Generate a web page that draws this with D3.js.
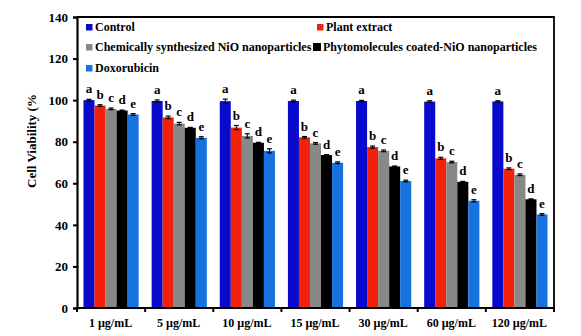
<html>
<head>
<meta charset="utf-8">
<script src="https://d3js.org/d3.v7.min.js"></script>
<style>
  body { margin: 0; background: #fff; }
  text { font-family: "Liberation Serif", "Times New Roman", serif; font-weight: bold; }
</style>
</head>
<body>
<svg id="chart" width="581" height="336"></svg>
<script>

// concentrations on the x axis
var doses = ["1 µg/mL", "5 µg/mL", "10 µg/mL", "15 µg/mL", "30 µg/mL", "60 µg/mL", "120 µg/mL"];

// treatments
var series = ["Control", "Plant extract", "Chemically synthesized NiO nanoparticles",
              "Phytomolecules coated-NiO nanoparticles", "Doxorubicin"];
var colors = ["#0a0acd", "#f2210b", "#888888", "#000000", "#1672de"];
var letters = ["a", "b", "c", "d", "e"];

// cell viability (%) per treatment, one value per dose
var control   = [100.0, 99.6, 99.5, 99.6, 99.6, 99.3, 99.4];
var plant     = [97.4, 91.7, 86.8, 82.1, 77.4, 72.0, 67.0];
var chemNiO   = [95.8, 88.7, 82.8, 79.2, 75.6, 70.2, 64.1];
var phytoNiO  = [95.0, 86.7, 79.5, 73.6, 68.1, 60.7, 52.3];
var doxo      = [93.1, 81.9, 75.6, 69.9, 61.1, 51.6, 45.0];

// standard errors
var controlErr  = [0.4, 0.5, 1.0, 0.4, 0.3, 0.4, 0.3];
var plantErr    = [0.4, 0.6, 1.0, 0.4, 0.5, 0.5, 0.4];
var chemNiOErr  = [0.4, 0.6, 1.0, 0.4, 0.4, 0.4, 0.4];
var phytoNiOErr = [0.2, 0.2, 0.2, 0.2, 0.2, 0.2, 0.2];
var doxoErr     = [0.4, 0.5, 1.0, 0.4, 0.4, 0.5, 0.4];

var yTicks = [0, 20, 40, 60, 80, 100, 120, 140];

var values = [control, plant, chemNiO, phytoNiO, doxo];
var errors = [controlErr, plantErr, chemNiOErr, phytoNiOErr, doxoErr];

var data = [];
doses.forEach(function(dose, i) {
  series.forEach(function(s, j) {
    data.push({dose: dose, series: s, value: values[j][i], err: errors[j][i], letter: letters[j], color: colors[j]});
  });
});

var svg = d3.select("#chart");

// plot area
var mLeft = 77, mRight = 554, mTop = 17, mBottom = 308;

var x0 = d3.scaleBand()
  .domain(doses)
  .range([mLeft, mRight])
  .paddingInner(0.19)
  .paddingOuter(0.095);

var x1 = d3.scaleBand()
  .domain(series)
  .range([0, x0.bandwidth()]);

var y = d3.scaleLinear()
  .domain([0, 140])
  .range([mBottom, mTop]);

// bars
svg.append("g").selectAll("rect")
  .data(data)
  .enter().append("rect")
    .attr("x", function(d) { return x0(d.dose) + x1(d.series); })
    .attr("y", function(d) { return y(d.value); })
    .attr("width", x1.bandwidth())
    .attr("height", function(d) { return y(0) - y(d.value); })
    .style("fill", function(d) { return d.color; });

// error bars
var eb = svg.append("g").selectAll("g")
  .data(data)
  .enter().append("g")
    .attr("transform", function(d) { return "translate(" + (x0(d.dose) + x1(d.series) + x1.bandwidth() / 2) + ",0)"; });
eb.append("line")
  .attr("x1", 0).attr("x2", 0)
  .attr("y1", function(d) { return y(d.value - d.err); })
  .attr("y2", function(d) { return y(d.value + d.err); })
  .attr("stroke", "#000").attr("stroke-width", 1);
eb.append("line")
  .attr("x1", -2.5).attr("x2", 2.5)
  .attr("y1", function(d) { return y(d.value + d.err); })
  .attr("y2", function(d) { return y(d.value + d.err); })
  .attr("stroke", "#000").attr("stroke-width", 1.2);
eb.append("line")
  .attr("x1", -2.5).attr("x2", 2.5)
  .attr("y1", function(d) { return y(d.value - d.err); })
  .attr("y2", function(d) { return y(d.value - d.err); })
  .attr("stroke", "#000").attr("stroke-width", 1.2);

// significance letters
svg.append("g").selectAll("text")
  .data(data)
  .enter().append("text")
    .attr("x", function(d) { return x0(d.dose) + x1(d.series) + x1.bandwidth() / 2; })
    .attr("y", function(d) { return y(d.value + d.err) - 6; })
    .attr("text-anchor", "middle")
    .style("font-size", "13px")
    .text(function(d) { return d.letter; });

// y axis
var yAxis = svg.append("g")
  .attr("transform", "translate(" + mLeft + ",0)")
  .call(d3.axisLeft(y).tickValues(yTicks).tickSize(4).tickPadding(5));
yAxis.select(".domain").attr("stroke-width", 2.2);
yAxis.selectAll(".tick line").attr("stroke-width", 2);
yAxis.selectAll("text").style("font-size", "13px").style("font-family", "Liberation Serif, serif").style("font-weight", "bold");

// x axis: ticks at the group boundaries
var step = x0.step();
var bounds = d3.range(doses.length + 1).map(function(i) { return mLeft + i * step; });
svg.append("line")
  .attr("x1", mLeft - 1).attr("x2", mRight + 1)
  .attr("y1", mBottom).attr("y2", mBottom)
  .attr("stroke", "#000").attr("stroke-width", 2.2);
svg.append("g").selectAll("line")
  .data(bounds)
  .enter().append("line")
    .attr("x1", function(d) { return d; }).attr("x2", function(d) { return d; })
    .attr("y1", mBottom).attr("y2", mBottom + 4)
    .attr("stroke", "#000").attr("stroke-width", 2);
svg.append("g").selectAll("text")
  .data(doses)
  .enter().append("text")
    .attr("x", function(d) { return x0(d) + x0.bandwidth() / 2 - 0.5; })
    .attr("y", 327)
    .attr("text-anchor", "middle")
    .style("font-size", "12px")
    .text(function(d) { return d; });

// frame: top and right sides
svg.append("path")
  .attr("d", "M" + mLeft + "," + mTop + "H" + mRight + "V" + mBottom)
  .attr("fill", "none")
  .attr("stroke", "#000")
  .attr("stroke-width", 1.8);

// y axis title
svg.append("text")
  .attr("transform", "translate(36,141) rotate(-90)")
  .attr("text-anchor", "middle")
  .style("font-size", "13px")
  .text("Cell Viability (%");

// legend
var legend = [
  {x: 86, y: 31, i: 0},
  {x: 317, y: 31, i: 1},
  {x: 86, y: 51, i: 2},
  {x: 313, y: 51, i: 3},
  {x: 86, y: 72, i: 4}
];
var lg = svg.append("g").selectAll("g")
  .data(legend)
  .enter().append("g")
    .attr("transform", function(d) { return "translate(" + d.x + "," + d.y + ")"; });
lg.append("rect")
  .attr("x", 0)
  .attr("y", function(d) { return d.i == 3 ? -8 : -7; })
  .attr("width", function(d) { return d.i == 3 ? 8 : 6.5; })
  .attr("height", function(d) { return d.i == 3 ? 8 : 6.5; })
  .style("fill", function(d) { return colors[d.i]; });
lg.append("text")
  .attr("x", function(d) { return d.i == 3 ? 10 : 9; })
  .attr("y", 0)
  .style("font-size", "12px")
  .text(function(d) { return series[d.i]; });

</script>
</body>
</html>
